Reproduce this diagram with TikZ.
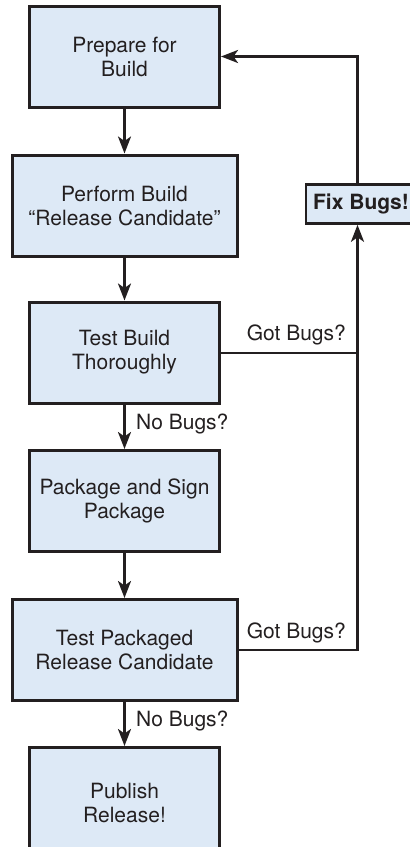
\documentclass[tikz,border=0pt]{standalone}
\usepackage{fontspec}
\setmainfont{TeX Gyre Heros}
\usetikzlibrary{arrows.meta,calc}
\definecolor{boxfill}{HTML}{DDE9F6}
\definecolor{ink}{HTML}{231F20}
\begin{document}
\begin{tikzpicture}[x=1pt,y=-1pt,
  stepbox/.style={draw=ink, fill=boxfill, line width=3pt, inner sep=0pt, align=center,
    font=\fontsize{21}{24}\selectfont, text=ink, minimum height=101pt},
  narrowbox/.style={stepbox, minimum width=190pt},
  widebox/.style={stepbox, minimum width=225pt},
  fixbox/.style={draw=ink, fill=boxfill, line width=2.6pt, inner sep=0pt,
    minimum width=110pt, minimum height=39pt,
    font=\fontsize{21}{24}\selectfont\bfseries, text=ink},
  arr/.style={draw=ink, line width=2.5pt, -{Stealth[length=17pt,width=13pt,inset=4.5pt]}},
  backarr/.style={arr, line width=2.7pt},
  thinline/.style={draw=ink, line width=2pt},
  lbl/.style={font=\fontsize{21}{24}\selectfont, text=ink, inner sep=0pt}]
\useasboundingbox (0,0) rectangle (410,847);
\clip (0,0) rectangle (410,847);

\node[narrowbox] (b1) at (124.5,56.5) {Prepare for\\Build};
\node[widebox]   (b2) at (124.5,205.5) {Perform Build\\“Release Candidate”};
\node[narrowbox] (b3) at (124.5,352.5) {Test Build\\Thoroughly};
\node[narrowbox] (b4) at (124.5,501) {Package and Sign\\Package};
\node[widebox]   (b5) at (124.5,650) {Test Packaged\\Release Candidate};
\node[narrowbox, minimum height=110pt] (b6) at (124.5,802.5) {Publish\\Release!};
\node[fixbox] (fix) at (361,204) {Fix Bugs!};
\coordinate (vx) at (357.5,0);

\draw[arr] (b1) -- (b2);
\draw[arr] (b2) -- (b3);
\draw[arr] (b3) -- (b4);
\draw[arr] (b4) -- (b5);
\draw[arr] (b5) -- (b6);

\draw[backarr] (fix.north -| vx) |- (b1.east);
\draw[thinline] (b3.east) -- ($(b3.east -| vx)+(1.35,0)$);
\draw[thinline] (b5.east) -- ($(b5.east -| vx)+(1.35,0)$);
\draw[backarr] ($(b5.east -| vx)+(0,1)$) -- (fix.south -| vx);

\node[lbl, anchor=base east] (gb1) at ($(b3.east -| vx)+(-11.5,-12)$) {Got Bugs?};
\node[lbl, anchor=base east] (gb2) at ($(b5.east -| vx)+(-11.5,-12)$) {Got Bugs?};
\node[lbl, anchor=base west] (nb1) at ($(b3.south)+(11.5,24.5)$) {No Bugs?};
\node[lbl, anchor=base west] (nb2) at ($(b5.south)+(11.5,24.5)$) {No Bugs?};
\end{tikzpicture}
\end{document}
